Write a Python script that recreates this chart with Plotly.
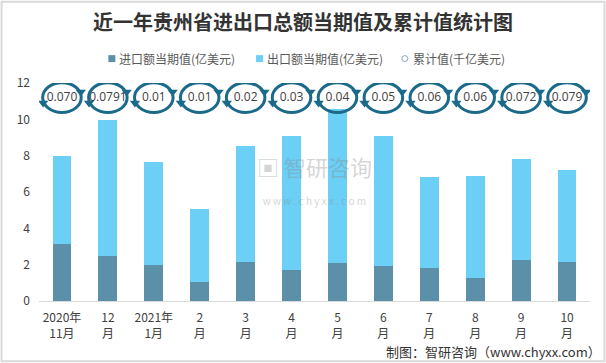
import plotly.graph_objects as go

categories = ["2020年<br>11月", "12<br>月", "2021年<br>1月", "2<br>月", "3<br>月", "4<br>月",
              "5<br>月", "6<br>月", "7<br>月", "8<br>月", "9<br>月", "10<br>月"]
import_vals = [3.15, 2.49, 2.00, 1.07, 2.16, 1.73, 2.11, 1.95, 1.84, 1.29, 2.27, 2.16]
export_vals = [4.82, 7.46, 5.64, 4.00, 6.36, 7.34, 8.44, 7.12, 4.98, 5.59, 5.54, 5.05]
cumulative_vals = ["0.070", "0.0791", "0.01", "0.01", "0.02", "0.03", "0.04", "0.05", "0.06", "0.06", "0.072", "0.079"]
series_names = ["进口额当期值(亿美元)", "出口额当期值(亿美元)", "累计值(千亿美元)"]
label_row = 11.2  # height of the cumulative-value label row (axis units)

IMP = "#5b90a8"
EXP = "#6bcff6"
RING = "#1b6a8a"

W, H = 606, 363
ML, MR, MT, MB = 38.5, 15.5, 82.5, 61.5
PW, PH = W - ML - MR, H - MT - MB


def px(x):
    return (x - ML) / PW


def py(y):
    return (H - MB - y) / PH


xs = list(range(len(categories)))

fig = go.Figure()
fig.add_trace(go.Bar(x=xs, y=import_vals, name=series_names[0],
                     marker_color=IMP, marker_line_width=0, showlegend=False))
fig.add_trace(go.Bar(x=xs, y=export_vals, name=series_names[1],
                     marker_color=EXP, marker_line_width=0, showlegend=False))

for i in xs:
    fig.add_shape(type="circle", xref="x", yref="y",
                  x0=i - 0.42, x1=i + 0.42, y0=label_row - 0.82, y1=label_row + 0.82,
                  line=dict(color=RING, width=3))
# arrowheads
fig.add_trace(go.Scatter(x=[i - 0.41 for i in xs], y=[label_row - 0.3] * len(xs),
                         mode="markers", showlegend=False, hoverinfo="skip",
                         marker=dict(symbol="triangle-down", size=9, color=RING)))
fig.add_trace(go.Scatter(x=[i + 0.41 for i in xs], y=[label_row + 0.3] * len(xs),
                         mode="markers", showlegend=False, hoverinfo="skip",
                         marker=dict(symbol="triangle-down", size=9, color=RING)))
fig.add_trace(go.Scatter(x=xs, y=[label_row] * len(xs), mode="text", name=series_names[2],
                         text=cumulative_vals, textposition="middle center",
                         textfont=dict(size=12, color="#404040", family="Open Sans, Noto Sans"),
                         showlegend=False, hoverinfo="skip"))

# manual legend
LY = 58
legend_items = [(108, 118, "rect", IMP), (256, 266, "rect", EXP), (402, 412, "circle", "#8aa9c0")]
for (sx, tx, kind, col), name in zip(legend_items, series_names):
    if kind == "rect":
        fig.add_shape(type="rect", xref="paper", yref="paper",
                      x0=px(sx), x1=px(sx + 7), y0=py(LY + 3.5), y1=py(LY - 3.5),
                      fillcolor=col, line=dict(width=0))
    else:
        fig.add_shape(type="circle", xref="paper", yref="paper",
                      x0=px(sx), x1=px(sx + 6), y0=py(LY + 3), y1=py(LY - 3),
                      fillcolor="white", line=dict(color=col, width=1))
    fig.add_annotation(xref="paper", yref="paper", x=px(tx), y=py(LY), xanchor="left", yanchor="middle",
                       text=name, showarrow=False, borderpad=0,
                       font=dict(size=12, color="#595959"))

fig.add_shape(type="rect", xref="paper", yref="paper", x0=px(1), x1=px(W - 1),
              y0=py(H - 1), y1=py(1), line=dict(color="#d9d9d9", width=2))

fig.update_layout(
    width=W, height=H,
    margin=dict(l=ML, r=MR, t=MT, b=MB, autoexpand=False),
    barmode="stack", bargap=0.59, showlegend=False,
    plot_bgcolor="white", paper_bgcolor="white",
    font=dict(family="Noto Sans CJK SC", size=12, color="#404040"),
    title=dict(text="<b>近一年贵州省进出口总额当期值及累计值统计图</b>", x=0.5, xanchor="center",
               y=1 - 23/H, yanchor="middle",
               font=dict(family="Noto Sans CJK SC", size=20, color="#333333")),
    xaxis=dict(range=[-0.5, len(xs) - 0.5], tickvals=xs, ticktext=categories,
               showgrid=False, showline=True, linecolor="#d9d9d9", linewidth=1, ticks="",
               tickangle=0, tickfont=dict(size=12, color="#404040"), zeroline=False,
               ticklabelstandoff=6),
    yaxis=dict(range=[0, 12], dtick=2, showgrid=False, zeroline=False, showline=False,
               tickfont=dict(size=12, color="#404040"), ticklabelstandoff=8),
)
fig.add_annotation(xref="paper", yref="paper", x=px(603), y=py(352), xanchor="right", yanchor="middle",
                   text="制图：智研咨询（www.chyxx.com）", showarrow=False, borderpad=0,
                   font=dict(size=13, color="#333333"))
fig.add_annotation(xref="paper", yref="paper", x=0.5, y=0.56, xanchor="center", yanchor="middle",
                   text="▣ 智研咨询<br><span style='font-size:10px'>w w w . c h y x x . c o m</span>",
                   showarrow=False, opacity=0.35,
                   font=dict(size=22, color="#8a8a8a"))
fig.write_html("out.html", config={"displayModeBar": False},
               post_script="document.body.style.margin='0px';document.body.style.overflow='hidden';")
